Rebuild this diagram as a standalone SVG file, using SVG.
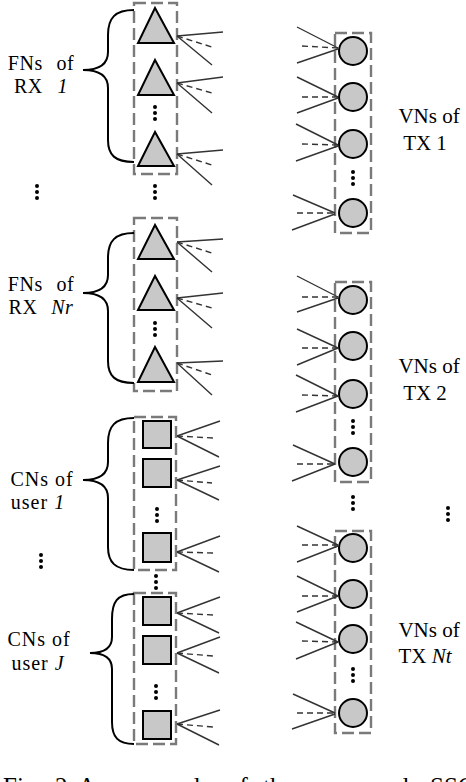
<svg xmlns="http://www.w3.org/2000/svg" width="466" height="782" viewBox="0 0 466 782">
<style>
.box{fill:none;stroke:#7a7a7a;stroke-width:2.4;stroke-dasharray:12 5}
.node{fill:#c8c8c8;stroke:#000;stroke-width:2}
.brace{fill:none;stroke:#000;stroke-width:2}
.e{stroke:#333;stroke-width:1.4;fill:none}
.d{stroke:#333;stroke-width:1.4;stroke-dasharray:6 4;fill:none}
.lbl{font-family:"Liberation Serif","Times New Roman",serif;font-size:20px;fill:#000}
.rl{font-family:"Liberation Serif","Times New Roman",serif;font-size:21px;fill:#000}
.it{font-style:italic}
.dot{fill:#000}
</style>
<defs>
<g id="v3"><circle cx="0" cy="0" r="2"/><circle cx="0" cy="6" r="2"/><circle cx="0" cy="12" r="2"/></g>
</defs>

<!-- FN group RX 1 -->
<g id="fn-rx1">
<rect class="box" x="134" y="3" width="43" height="171"/>
<polygon class="node" points="155,8 138,43 174,43"/>
<polygon class="node" points="155,60 138,95 174,95"/>
<polygon class="node" points="155,132 138,166 174,166"/>
<use href="#v3" x="155" y="107" class="dot"/>
<path class="brace" d="M134,10 C115,10 108,18 108,35 L108,52 C108,64 100,70 83,70 C100,70 108,76 108,88 L108,140 C108,155 115,162 134,162"/>
<text class="lbl" x="41" y="70" text-anchor="middle" word-spacing="8" letter-spacing="0.6">FNs of</text>
<text class="lbl" x="41" y="93" text-anchor="middle" word-spacing="9" letter-spacing="0.6">RX <tspan class="it">1</tspan></text>
</g>

<!-- FN group RX Nr -->
<g id="fn-rxnr">
<rect class="box" x="134" y="218" width="43" height="173"/>
<polygon class="node" points="155,225 138,259 174,259"/>
<polygon class="node" points="155,276 138,310 174,310"/>
<polygon class="node" points="155,347 138,382 174,382"/>
<use href="#v3" x="155" y="323" class="dot"/>
<path class="brace" d="M134,233 C115,233 108,241 108,258 L108,275 C108,287 100,293 83,293 C100,293 108,299 108,311 L108,361 C108,376 115,383 134,383"/>
<text class="lbl" x="41" y="291" text-anchor="middle" word-spacing="8" letter-spacing="0.6">FNs of</text>
<text class="lbl" x="41" y="314" text-anchor="middle" word-spacing="8" letter-spacing="0.6">RX <tspan class="it">Nr</tspan></text>
</g>

<!-- CN group user 1 -->
<g id="cn-user1">
<rect class="box" x="134" y="417" width="42" height="153"/>
<rect class="node" x="143" y="421" width="28" height="27"/>
<rect class="node" x="143" y="459" width="28" height="28"/>
<rect class="node" x="143" y="533" width="28" height="29"/>
<use href="#v3" x="157" y="509" class="dot"/>
<path class="brace" d="M134,418 C115,418 108,426 108,443 L108,462 C108,474 100,480 83,480 C100,480 108,486 108,498 L108,547 C108,562 115,570 134,570"/>
<text class="lbl" x="42" y="486" text-anchor="middle" letter-spacing="1">CNs of</text>
<text class="lbl" x="38" y="509" text-anchor="middle" letter-spacing="1">user <tspan class="it">1</tspan></text>
</g>

<!-- CN group user J -->
<g id="cn-userj">
<rect class="box" x="134" y="593" width="42" height="151"/>
<rect class="node" x="143" y="597" width="28" height="28"/>
<rect class="node" x="143" y="636" width="28" height="28"/>
<rect class="node" x="143" y="711" width="28" height="28"/>
<use href="#v3" x="156" y="686" class="dot"/>
<path class="brace" d="M134,594 C117,594 112,602 112,619 L112,637 C112,648 105,653 90,653 C105,653 112,658 112,669 L112,722 C112,737 118,744 134,744"/>
<text class="lbl" x="39" y="646" text-anchor="middle" letter-spacing="1">CNs of</text>
<text class="lbl" x="38" y="670" text-anchor="middle" letter-spacing="1">user <tspan class="it">J</tspan></text>
</g>

<!-- VN group TX 1 -->
<g id="vn-tx1">
<rect class="box" x="335" y="33" width="36" height="200"/>
<circle class="node" cx="353" cy="51" r="14"/>
<circle class="node" cx="353" cy="97" r="14"/>
<circle class="node" cx="353" cy="144" r="14"/>
<circle class="node" cx="353" cy="213" r="14"/>
<use href="#v3" x="353" y="172" class="dot"/>
<text class="rl" x="429" y="123" text-anchor="middle">VNs of</text>
<text class="rl" x="425" y="150" text-anchor="middle">TX 1</text>
</g>

<!-- VN group TX 2 -->
<g id="vn-tx2">
<rect class="box" x="335" y="282" width="36" height="200"/>
<circle class="node" cx="353" cy="300" r="14"/>
<circle class="node" cx="353" cy="346" r="14"/>
<circle class="node" cx="353" cy="394" r="14"/>
<circle class="node" cx="353" cy="462" r="14"/>
<use href="#v3" x="353" y="421" class="dot"/>
<text class="rl" x="429" y="373" text-anchor="middle">VNs of</text>
<text class="rl" x="425" y="400" text-anchor="middle">TX 2</text>
</g>

<!-- VN group TX Nt -->
<g id="vn-txnt">
<rect class="box" x="335" y="531" width="36" height="202"/>
<circle class="node" cx="353" cy="548" r="14"/>
<circle class="node" cx="353" cy="594" r="14"/>
<circle class="node" cx="353" cy="639" r="14"/>
<circle class="node" cx="353" cy="713" r="14"/>
<use href="#v3" x="353" y="669" class="dot"/>
<text class="rl" x="429" y="637" text-anchor="middle">VNs of</text>
<text class="rl" x="425" y="663" text-anchor="middle">TX <tspan class="it">Nt</tspan></text>
</g>

<!-- ellipsis dots between groups -->
<g id="ellipses" class="dot">
<use href="#v3" x="37" y="186"/>
<use href="#v3" x="155" y="186"/>
<use href="#v3" x="41" y="555"/>
<use href="#v3" x="156" y="576"/>
<use href="#v3" x="353" y="497"/>
<use href="#v3" x="448" y="508"/>
</g>

<!-- connectors -->
<g id="connectors">
<!-- FN RX1 -->
<path class="e" d="M177,36 L223,32 M177,36 L212,65"/><path class="d" d="M177,36 L212,47"/>
<path class="e" d="M177,83 L223,77 M177,83 L212,113"/><path class="d" d="M177,83 L212,93"/>
<path class="e" d="M177,154 L223,150 M177,154 L212,185"/><path class="d" d="M177,154 L212,165"/>
<!-- FN RX Nr -->
<path class="e" d="M177,242 L223,239 M177,242 L212,272"/><path class="d" d="M177,242 L212,253"/>
<path class="e" d="M177,298 L223,293 M177,298 L212,328"/><path class="d" d="M177,298 L212,308"/>
<path class="e" d="M177,363 L223,361 M177,363 L212,395"/><path class="d" d="M177,363 L212,375"/>
<!-- CN user 1 -->
<path class="e" d="M177,436 L220,421 M177,436 L219,457"/><path class="d" d="M177,436 L213,438"/>
<path class="e" d="M177,480 L220,466 M177,480 L219,500"/><path class="d" d="M177,480 L212,483"/>
<path class="e" d="M177,552 L220,536 M177,552 L219,572"/><path class="d" d="M177,552 L213,553"/>
<!-- CN user J -->
<path class="e" d="M177,613 L220,597 M177,613 L219,633"/><path class="d" d="M177,613 L213,615"/>
<path class="e" d="M177,653 L220,637 M177,653 L219,673"/><path class="d" d="M177,653 L213,656"/>
<path class="e" d="M177,724 L220,710 M177,724 L219,745"/><path class="d" d="M177,724 L213,727"/>
<!-- VN TX1 -->
<path class="e" d="M297,27 L338,48 M297,63 L338,49"/><path class="d" d="M302,46 L338,48"/>
<path class="e" d="M297,77 L338,97 M297,113 L338,98"/><path class="d" d="M302,97 L338,97"/>
<path class="e" d="M296,124 L338,145 M296,161 L338,146"/><path class="d" d="M302,144 L338,145"/>
<path class="e" d="M293,195 L335,213 M292,230 L335,214"/><path class="d" d="M297,213 L335,213"/>
<!-- VN TX2 -->
<path class="e" d="M297,276 L338,297 M297,312 L338,298"/><path class="d" d="M302,297 L338,297"/>
<path class="e" d="M297,329 L338,348 M297,365 L338,348"/><path class="d" d="M302,348 L338,348"/>
<path class="e" d="M296,375 L338,396 M296,412 L338,396"/><path class="d" d="M302,395 L338,396"/>
<path class="e" d="M293,445 L335,464 M292,481 L335,464"/><path class="d" d="M297,464 L335,464"/>
<!-- VN TX Nt -->
<path class="e" d="M297,526 L338,545 M297,562 L338,546"/><path class="d" d="M302,545 L338,545"/>
<path class="e" d="M297,576 L338,596 M297,612 L338,596"/><path class="d" d="M302,596 L338,596"/>
<path class="e" d="M296,622 L338,642 M296,659 L338,642"/><path class="d" d="M302,641 L338,642"/>
<path class="e" d="M293,694 L335,713 M292,729 L335,714"/><path class="d" d="M297,713 L335,713"/>
</g>

<!-- caption (cut off at bottom edge) -->
<text font-family="Liberation Serif, Times New Roman, serif" font-size="25" y="795"><tspan x="3">Fig.</tspan><tspan x="55">2:</tspan><tspan x="78">An</tspan><tspan x="127">example</tspan><tspan x="227">of</tspan><tspan x="263">the</tspan><tspan x="317">proposed</tspan><tspan x="430">SSC</tspan></text>
</svg>
